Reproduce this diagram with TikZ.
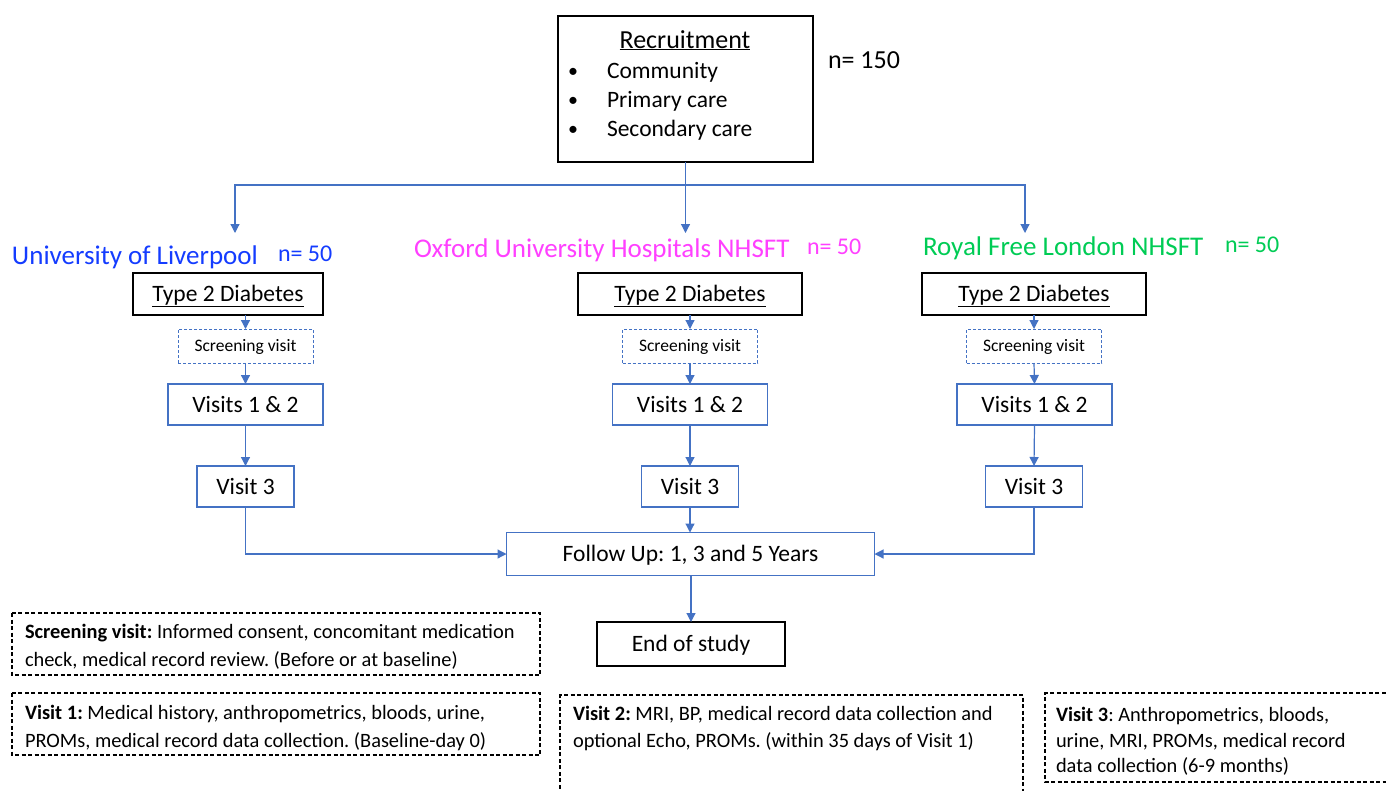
\documentclass[tikz,border=0pt]{standalone}
\usepackage{fontspec}
\setmainfont{Carlito}
\usetikzlibrary{arrows.meta}
\definecolor{obl}{RGB}{68,114,196}
\definecolor{livc}{RGB}{20,60,255}
\definecolor{oxfc}{RGB}{255,64,255}
\definecolor{rflc}{RGB}{0,204,85}
\newcommand\fsz[2]{\fontsize{#1}{#2}\selectfont}
\frenchspacing
\begin{document}
\frenchspacing
\begin{tikzpicture}[x=1pt,y=-1pt,
  every node/.style={inner sep=0pt, outer sep=0pt},
  blk/.style={draw=black, line width=1.3pt, text height=15pt, text depth=0pt, font=\fsz{23.5}{28}},
  blu/.style={draw=obl, line width=1.2pt, text height=15pt, text depth=0pt, font=\fsz{23.5}{28}},
  scrbox/.style={draw=obl, line width=0.9pt, dash pattern=on 3pt off 2pt, minimum width=135, minimum height=34, text height=11pt, text depth=0pt, font=\fsz{17.5}{21}},
  lnk/.style={draw=obl, line width=1.2pt},
  arr/.style={lnk, -{Triangle[length=9pt,width=9pt]}},
  note/.style={draw=black, line width=1.1pt, dash pattern=on 4pt off 2.5pt},
  ntxt/.style={anchor=base west, font=\fsz{20.4}{27}},
  rtxt/.style={anchor=base west, font=\fsz{23.5}{28}},
  bul/.style={anchor=base, font=\fsz{20}{24}},
  site/.style={anchor=base west, font=\fsz{27}{32}},
  cnt/.style={anchor=base west, font=\fsz{24}{28}},
]
\useasboundingbox (0,0) rectangle (1386,790);
\fill[white] (0,0) rectangle (1386,790);

% Recruitment
\node[blk, minimum width=255, minimum height=146] (rec) at (685.5,89) {};
\node[anchor=base, font=\fsz{26}{30}] (rtitle) at (685,48) {\underline{Recruitment}};
\node[bul] (b1) at (573,77) {\textbullet};
\node[bul] (b2) at (573,106) {\textbullet};
\node[bul] (b3) at (573,135) {\textbullet};
\node[rtxt] (c1) at (607,78) {Community};
\node[rtxt] (c2) at (607,107) {Primary care};
\node[rtxt] (c3) at (607,136) {Secondary care};
\node[anchor=base west, font=\fsz{26}{30}] (n150) at (828,68) {n= 150};

% split
\coordinate (split) at (685.5,185);
\coordinate (tL) at (235,233);
\coordinate (tM) at (685.5,233);
\coordinate (tR) at (1025,233);
\draw[lnk] (rec.south) -- (split);
\draw[arr] (split) -| (tL);
\draw[arr] (split) -| (tR);
\draw[arr] (split) -- (tM);

% site labels
\node[site, text=livc] (liv) at (12,264) {University of Liverpool};
\node[cnt, text=livc] (nliv) at (278,261) {n= 50};
\node[site, text=oxfc] (oxf) at (414,257) {Oxford University Hospitals NHSFT};
\node[cnt, text=oxfc] (noxf) at (807,254) {n= 50};
\node[site, text=rflc] (rfl) at (923,255) {Royal Free London NHSFT};
\node[cnt, text=rflc] (nrfl) at (1225,252) {n= 50};

% columns
\node[blk, minimum width=190, minimum height=42] (t2dL) at (228,294) {\underline{Type 2 Diabetes}};
\node[blk, minimum width=224, minimum height=42] (t2dM) at (690,294) {\underline{Type 2 Diabetes}};
\node[blk, minimum width=224, minimum height=42] (t2dR) at (1034,294) {\underline{Type 2 Diabetes}};

\node[scrbox] (scrL) at (245.5,346) {Screening visit};
\node[scrbox] (scrM) at (690,346) {Screening visit};
\node[scrbox] (scrR) at (1034,346) {Screening visit};

\node[blu, minimum width=155, minimum height=41] (v12L) at (245.5,404.5) {Visits 1 \& 2};
\node[blu, minimum width=155, minimum height=41] (v12M) at (690,404.5) {Visits 1 \& 2};
\node[blu, minimum width=155, minimum height=41] (v12R) at (1034.5,404.5) {Visits 1 \& 2};

\node[blu, minimum width=97, minimum height=41] (v3L) at (245.5,486.5) {Visit 3};
\node[blu, minimum width=97, minimum height=41] (v3M) at (690,486.5) {Visit 3};
\node[blu, minimum width=97, minimum height=41] (v3R) at (1034,486.5) {Visit 3};

\node[blu, minimum width=368, minimum height=43] (fu) at (690.5,554) {Follow Up: 1, 3 and 5 Years};
\node[blk, minimum width=188, minimum height=44] (end) at (691,644) {End of study};

\foreach \c in {L,M,R}{
  \draw[arr] (t2d\c.south -| scr\c.north) -- (scr\c.north);
  \draw[arr] (scr\c.south) -- (v12\c.north);
  \draw[arr] (v12\c.south) -- (v3\c.north);
}
\draw[arr] (v3L.south) |- (fu.west);
\draw[arr] (v3R.south) |- (fu.east);
\draw[arr] (v3M.south) -- (fu.north -| v3M.south);
\draw[arr] (fu.south -| end.north) -- (end.north);

% notes
\draw[note] (12,613) rectangle (540,675);
\node[ntxt] (s1) at (25,638) {\textbf{Screening visit:} Informed consent, concomitant medication};
\node[ntxt] (s2) at (25,666) {check, medical record review. (Before or at baseline)};

\draw[note] (12,693) rectangle (540,755);
\node[ntxt] (a1) at (25,719) {\textbf{Visit 1:} Medical history, anthropometrics, bloods, urine,};
\node[ntxt] (a2) at (25,747) {PROMs, medical record data collection. (Baseline-day 0)};

\draw[note] (560,795) -- (560,695) -- (1023,695) -- (1023,795);
\node[ntxt] (d1) at (573,720) {\textbf{Visit 2:} MRI, BP, medical record data collection and};
\node[ntxt] (d2) at (573,747) {optional Echo, PROMs. (within 35 days of Visit 1)};

\draw[note] (1392,693) -- (1045,693) -- (1045,782) -- (1392,782);
\node[ntxt] (e1) at (1056,721) {\textbf{Visit 3}: Anthropometrics, bloods,};
\node[ntxt] (e2) at (1056,747) {urine, MRI, PROMs, medical record};
\node[ntxt] (e3) at (1056,772) {data collection (6-9 months)};
\end{tikzpicture}
\end{document}
